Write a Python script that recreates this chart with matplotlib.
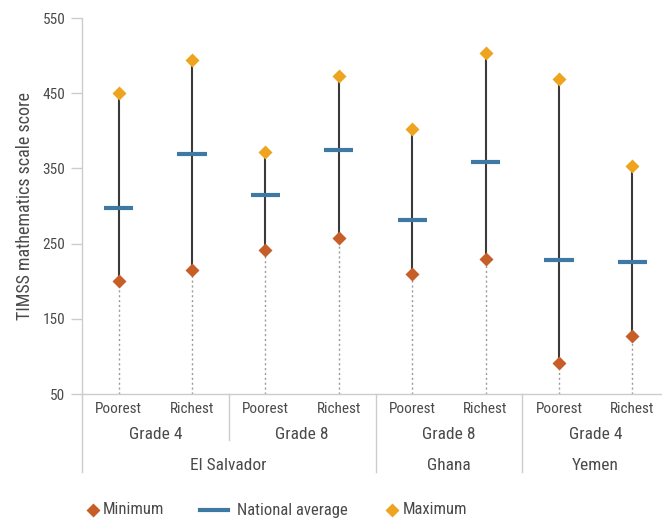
import matplotlib
matplotlib.use("Agg")
import matplotlib.pyplot as plt
from matplotlib.lines import Line2D
import matplotlib.transforms as mtransforms
from matplotlib import font_manager

# === 数据 ===
groups = ["Poorest", "Richest"] * 4
grades = ["Grade 4", "Grade 8", "Grade 8", "Grade 4"]
countries = ["El Salvador", "Ghana", "Yemen"]
country_span = [4, 2, 2]  # 每个国家占几列

minimum = [200, 215, 241, 257, 210, 230, 91, 127]
average = [297, 369, 315, 374, 281, 358, 228, 225]
maximum = [450, 494, 372, 473, 403, 503, 469, 353]

C_MIN = "#C75E28"
C_AVG = "#3D79A3"
C_MAX = "#EFA41F"
TXT = "#4a4a4a"
AXC = "#cccccc"

# 找一个窄体字体 (原图是 condensed 字体)
names = {f.name for f in font_manager.fontManager.ttflist}
narrow = [n for n in ["Roboto Condensed", "Liberation Sans Narrow", "DejaVu Sans Condensed",
                      "Open Sans Condensed"] if n in names]
narrow += sorted(n for n in names if ("Condensed" in n or "Narrow" in n) and n not in narrow)
plt.rcParams['font.family'] = narrow[:1] + ['Roboto', 'DejaVu Sans']

fig = plt.figure(figsize=(6.62, 5.20), dpi=100)
# 轴的右边稍微超出画布，和原图一样被裁掉
ax = fig.add_axes([82 / 662, 126 / 520, 587 / 662, 376 / 520])

x = list(range(len(groups)))
ax.vlines(x, 50, minimum, colors="#9a9a9a", linestyles=(0, (1.5, 2)), lw=1, zorder=1)
ax.vlines(x, minimum, maximum, colors="#3a3a3a", lw=1.5, zorder=2)
ax.hlines(average, [i - 0.2 for i in x], [i + 0.2 for i in x], colors=C_AVG, lw=3, zorder=3)
ax.plot(x, minimum, "D", ms=6.8, color=C_MIN, mec="none", zorder=4)
ax.plot(x, maximum, "D", ms=6.8, color=C_MAX, mec="none", zorder=4)

ax.set_xlim(-0.5, 7.5)
ax.set_ylim(50, 550)
ax.set_yticks([50, 150, 250, 350, 450, 550])
ax.tick_params(axis="y", colors=AXC, labelcolor=TXT, labelsize=11, length=8, width=1, pad=4)
ax.tick_params(axis="x", length=0, labelsize=11, labelcolor=TXT, pad=6)
ax.set_xticks(x)
ax.set_xticklabels(groups)
for s in ["top", "right"]:
    ax.spines[s].set_visible(False)
for s in ["left", "bottom"]:
    ax.spines[s].set_color(AXC)
    ax.spines[s].set_linewidth(1)
ax.set_ylabel("TIMSS mathematics scale score", fontsize=13, color=TXT, labelpad=6)

# 多层 x 轴标签
trans = mtransforms.blended_transform_factory(ax.transData, ax.transAxes)
for i, g in enumerate(grades):
    ax.text(2 * i + 0.5, -0.109, g, transform=trans, ha="center", va="center",
            fontsize=12.5, color=TXT)
start = 0
for c, n in zip(countries, country_span):
    ax.text(start + (n - 1) / 2, -0.19, c, transform=trans, ha="center", va="center",
            fontsize=12.5, color=TXT)
    start += n

# 分隔线
for b in [1.5]:
    ax.plot([b, b], [0, -0.122], transform=trans, color=AXC, lw=1, clip_on=False)
for b in [-0.5, 3.5, 5.5]:
    ax.plot([b, b], [0, -0.207], transform=trans, color=AXC, lw=1, clip_on=False)

# 图例
ly = 1 - 510 / 520
fig.add_artist(Line2D([93 / 662], [ly], marker="D", ms=6.8, color=C_MIN, mec="none", transform=fig.transFigure))
fig.text(103 / 662, ly, "Minimum", va="center", fontsize=12, color=TXT)
fig.add_artist(Line2D([200 / 662, 228 / 662], [ly, ly], lw=3, color=C_AVG, transform=fig.transFigure))
fig.text(237 / 662, ly, "National average", va="center", fontsize=12, color=TXT)
fig.add_artist(Line2D([392 / 662], [ly], marker="D", ms=6.8, color=C_MAX, mec="none", transform=fig.transFigure))
fig.text(403 / 662, ly, "Maximum", va="center", fontsize=12, color=TXT)

fig.savefig("out.png", dpi=100)
